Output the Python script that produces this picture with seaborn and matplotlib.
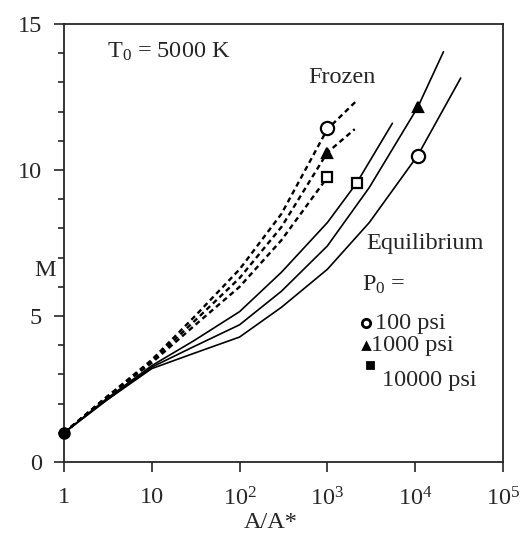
import pandas as pd
import seaborn as sns
import matplotlib.pyplot as plt
from matplotlib.ticker import FixedLocator, NullLocator, MultipleLocator

# Frozen flow curves (dashed), A/A* vs Mach number
frozen_100_x = [1, 3, 10, 30, 100, 300, 1000, 2200]
frozen_100_m = [1, 2.2, 3.5, 4.95, 6.6, 8.5, 11.4, 12.4]
frozen_1000_x = [1, 3, 10, 30, 100, 300, 1000, 2050]
frozen_1000_m = [1, 2.2, 3.45, 4.8, 6.3, 8.05, 10.6, 11.4]
frozen_10000_x = [1, 3, 10, 30, 100, 300, 1000]
frozen_10000_m = [1, 2.2, 3.4, 4.65, 6.0, 7.6, 9.75]

# Equilibrium flow curves (solid)
eq_100_x = [1, 3, 10, 30, 100, 300, 1000, 3000, 10700, 33000]
eq_100_m = [1, 2.1, 3.2, 3.72, 4.28, 5.3, 6.6, 8.2, 10.5, 13.15]
eq_1000_x = [1, 3, 10, 30, 100, 300, 1000, 3000, 10700, 21000]
eq_1000_m = [1, 2.1, 3.25, 3.95, 4.7, 5.85, 7.4, 9.4, 12.15, 14.05]
eq_10000_x = [1, 3, 10, 30, 100, 300, 1000, 2150, 5500]
eq_10000_m = [1, 2.15, 3.3, 4.15, 5.15, 6.5, 8.2, 9.55, 11.6]

# marker positions on the curves
mark_frozen_x = [1000, 1000, 1000]
mark_frozen_m = [11.44, 10.58, 9.76]
mark_eq_x = [10700, 10700, 2150]
mark_eq_m = [10.48, 12.16, 9.55]
mark_styles = ['o', '^', 's']

x_ticks = [1, 10, 100, 1000, 10000, 100000]
x_labels = ['1', '10', '10$^2$', '10$^3$', '10$^4$', '10$^5$']
y_ticks = [0, 5, 10, 15]
pressures = ['100 psi', '1000 psi', '10000 psi']

sns.set_style('ticks')
plt.rcParams['font.family'] = ['Liberation Serif', 'DejaVu Serif']
plt.rcParams['mathtext.fontset'] = 'custom'
plt.rcParams['mathtext.rm'] = 'Liberation Serif'
plt.rcParams['mathtext.it'] = 'Liberation Serif:italic'
fs = 17.5

fig = plt.figure(figsize=(5.21, 5.46), dpi=100)
ax = fig.add_axes([0.1228, 0.1538, 0.8426, 0.8022])

frozen = [(frozen_100_x, frozen_100_m), (frozen_1000_x, frozen_1000_m),
          (frozen_10000_x, frozen_10000_m)]
equil = [(eq_100_x, eq_100_m), (eq_1000_x, eq_1000_m), (eq_10000_x, eq_10000_m)]

for xs, ms in frozen:
    df = pd.DataFrame({'x': xs, 'm': ms})
    sns.lineplot(data=df, x='x', y='m', ax=ax, color='black', lw=1.7,
                 sort=False, estimator=None, linestyle=(0, (2.2, 1.6)))

for xs, ms in equil:
    df = pd.DataFrame({'x': xs, 'm': ms})
    sns.lineplot(data=df, x='x', y='m', ax=ax, color='black', lw=1.2,
                 sort=False, estimator=None)

for i, mk in enumerate(mark_styles):
    filled = 'black' if mk == '^' else 'white'
    size = 9.5 if mk == 'o' else 7
    ax.plot(mark_frozen_x[i], mark_frozen_m[i], marker=mk, ms=size, mfc=filled,
            mec='black', mew=1.6, ls='none', zorder=5)
    ax.plot(mark_eq_x[i], mark_eq_m[i], marker=mk, ms=size, mfc=filled,
            mec='black', mew=1.6, ls='none', zorder=5)

# filled dot at the throat
ax.plot(1, 1, marker='o', ms=8, color='black', clip_on=False, zorder=6)

ax.set_xscale('log')
ax.set_xlim(1, 1e5)
ax.set_ylim(0, 15)
ax.xaxis.set_major_locator(FixedLocator(x_ticks))
ax.set_xticklabels(x_labels)
ax.xaxis.set_minor_locator(NullLocator())
ax.set_yticks(y_ticks)
ax.yaxis.set_minor_locator(MultipleLocator(1))
ax.tick_params(axis='both', which='major', labelsize=fs, length=7, width=1.2,
               direction='out')
ax.tick_params(axis='y', which='major', pad=9)
ax.tick_params(axis='x', which='major', pad=11)
ax.tick_params(axis='y', which='minor', length=4, width=1.2, direction='out')
for sp in ax.spines.values():
    sp.set_visible(True)
    sp.set_linewidth(1.3)
ax.set_xlabel('')
ax.set_ylabel('')

ax.text(-0.043, 0.438, 'M', transform=ax.transAxes, fontsize=fs,
        ha='center', va='center')
ax.text(0.472, -0.137, 'A/A*', transform=ax.transAxes, fontsize=fs,
        ha='center', va='center')

ax.text(0.098, 0.936, 'T$_0$ = 5000 K', transform=ax.transAxes, fontsize=fs,
        ha='left', va='center')
ax.text(0.633, 0.879, 'Frozen', transform=ax.transAxes, fontsize=fs,
        ha='center', va='center')
ax.text(0.688, 0.5, 'Equilibrium', transform=ax.transAxes, fontsize=fs,
        ha='left', va='center')
ax.text(0.679, 0.404, 'P$_0$ =', transform=ax.transAxes, fontsize=fs,
        ha='left', va='center')

# hand-made key
key_marker_pos = [(0.688, 0.317), (0.688, 0.265), (0.697, 0.221)]
key_text_pos = [(0.708, 0.317), (0.699, 0.265), (0.724, 0.187)]
key_sizes = [6, 5, 5]
for i, mk in enumerate(mark_styles):
    mx, my = key_marker_pos[i]
    ax.plot(mx, my, marker=mk, ms=key_sizes[i],
            mfc='white' if mk == 'o' else 'black',
            mec='black', mew=2, transform=ax.transAxes, clip_on=False)
    tx, ty = key_text_pos[i]
    ax.text(tx, ty, pressures[i], transform=ax.transAxes, fontsize=fs,
            ha='left', va='center')

plt.savefig('out.png', dpi=100)
